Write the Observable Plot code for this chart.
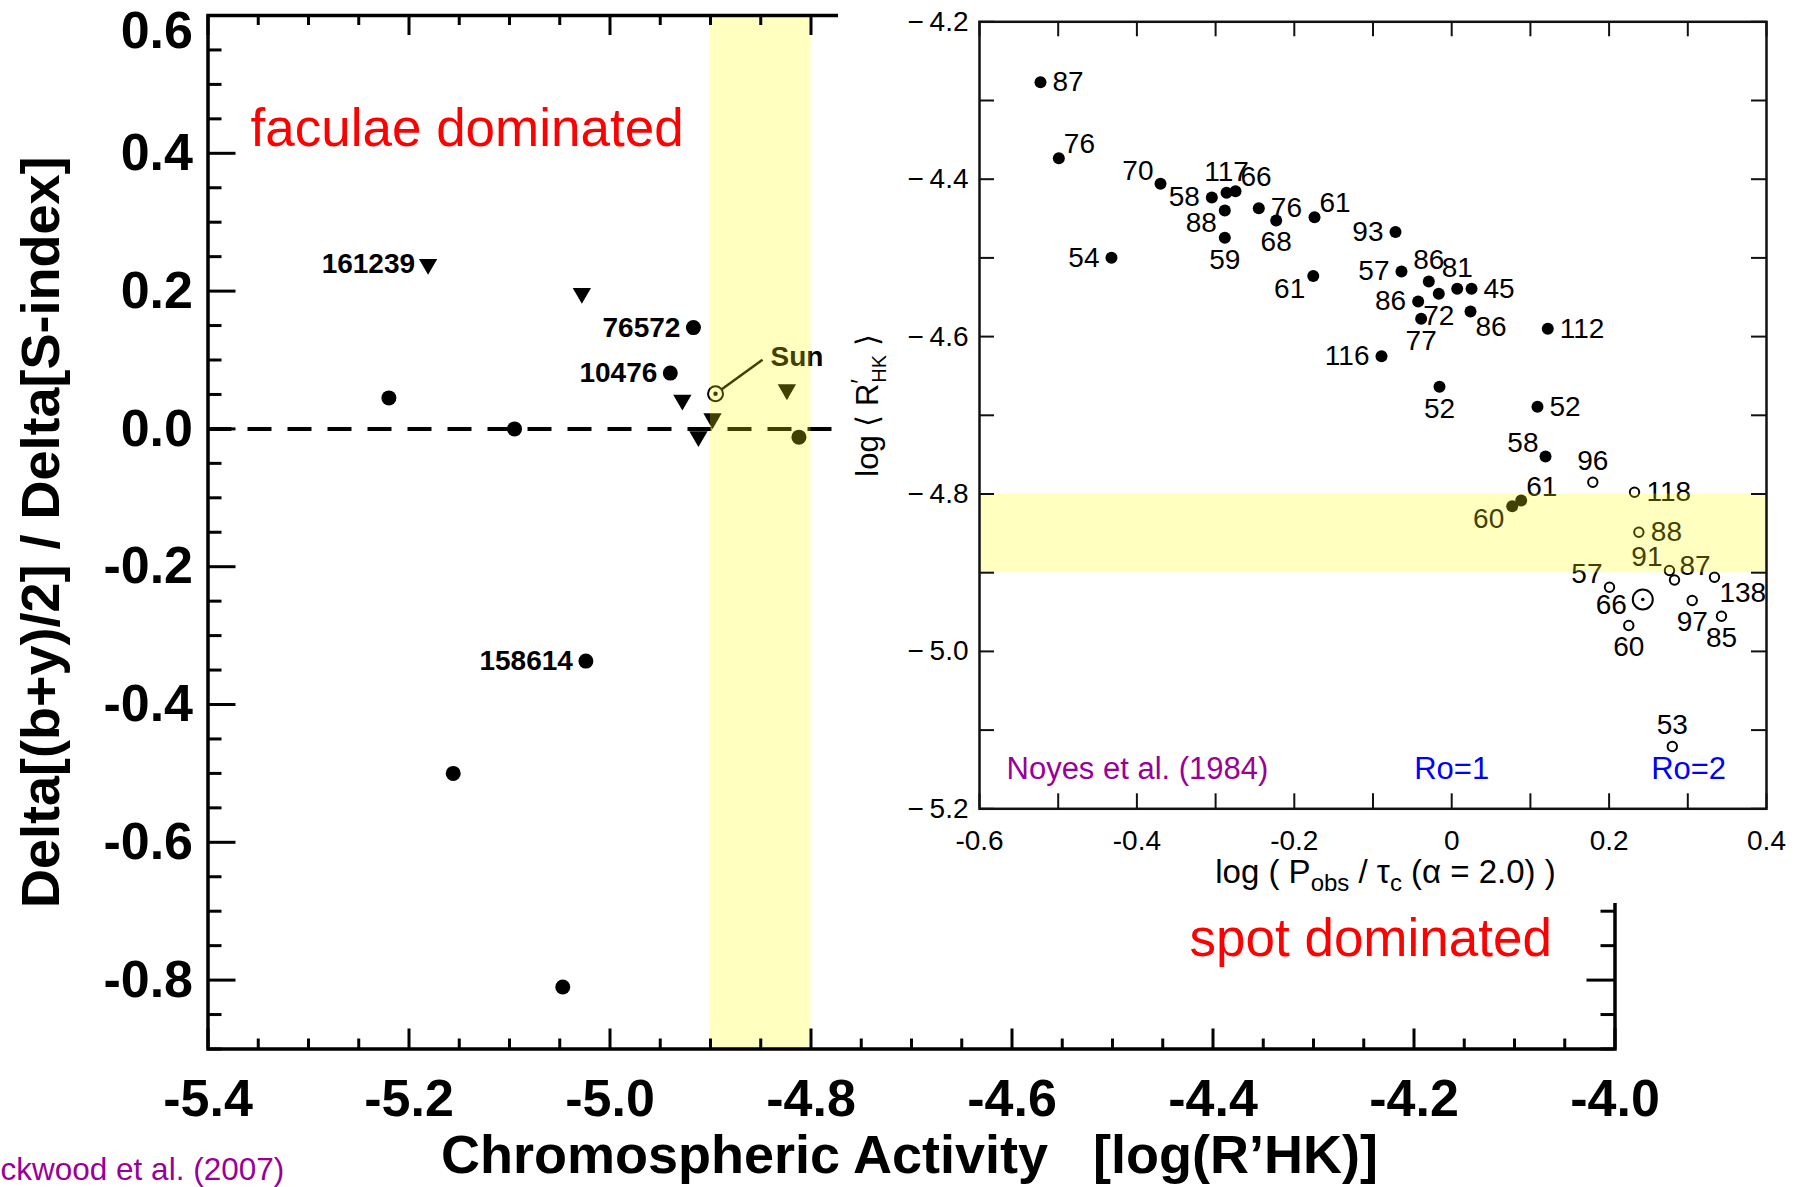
<!DOCTYPE html>
<html><head><meta charset="utf-8">
<script src="https://cdn.jsdelivr.net/npm/d3@7"></script>
<script src="https://cdn.jsdelivr.net/npm/@observablehq/plot@0.6"></script>
<style>
body{margin:0;background:#fff;}
#wrap{position:relative;width:1801px;height:1187px;overflow:hidden;background:#fff;}
#main{position:absolute;left:0;top:0;}
#inset{position:absolute;left:838px;top:0;}
</style></head><body><div id="wrap"><div id="main"></div><div id="inset"></div></div>
<script>
// ---------- Left chart (Lockwood et al. 2007) ----------
const circleStars   = ["", "", "76572", "10476", "", "158614", "", ""];
const circleLogRHK  = [-5.220, -5.095, -4.917, -4.940, -4.812, -5.024, -5.156, -5.047];
const circleRatio   = [0.045, 0.000, 0.147, 0.081, -0.012, -0.337, -0.500, -0.810];
const triangleStars  = ["161239", "", "", "", "", ""];
const triangleLogRHK = [-5.181, -5.028, -4.928, -4.912, -4.898, -4.824];
const triangleRatio  = [0.239, 0.197, 0.042, -0.011, 0.015, 0.057];
const sunLogRHK = -4.895, sunRatio = 0.051;
const solarBandRHK = [-4.9, -4.8];
const leftXTicks = [-5.4, -5.2, -5.0, -4.8, -4.6, -4.4, -4.2, -4.0];
const leftYTicks = [0.6, 0.4, 0.2, 0.0, -0.2, -0.4, -0.6, -0.8];

// ---------- Inset (Noyes et al. 1984) ----------
const noyesBV = ["87","76","70","58","54","117","66","88","76","68","59","61","93","61","57","86","81","45","72","86","77","86","112","116","52","52","58","61","60",
                 "96","118","88","91","87","138","57","60","97","85","53"];
const noyesLogRo = [-0.5225,-0.4992,-0.370,-0.3048,-0.4323,-0.2861,-0.2747,-0.2883,-0.2451,-0.223,-0.2883,-0.1743,-0.0714,-0.1759,-0.0638,-0.0291,0.007,0.0252,-0.0164,-0.0426,-0.0388,0.0239,0.1221,-0.0892,-0.0155,0.109,0.1192,0.0883,0.0769,
                    0.1793,0.2323,0.2378,0.2767,0.2831,0.3339,0.2005,0.225,0.3056,0.3428,0.2803];
const noyesLogRHK = [-4.2767,-4.3733,-4.4059,-4.4232,-4.4999,-4.4173,-4.4152,-4.4398,-4.4369,-4.4525,-4.4745,-4.4483,-4.467,-4.523,-4.5173,-4.530,-4.5393,-4.5393,-4.5456,-4.5554,-4.5774,-4.5681,-4.5901,-4.6249,-4.6638,-4.689,-4.7523,-4.8083,-4.8155,
                     -4.785,-4.7977,-4.8486,-4.8972,-4.9093,-4.9057,-4.9184,-4.9671,-4.9353,-4.9553,-5.1208];
const noyesFilled = [1,1,1,1,1,1,1,1,1,1,1,1,1,1,1,1,1,1,1,1,1,1,1,1,1,1,1,1,1, 0,0,0,0,0,0,0,0,0,0,0];
const noyesLabelSide = ["e","ne","nw","w","w","n","ne","sw","e","s","s","ne","w","sw","w","n","n","e","s","w","s","se","e","w","s","e","nw","ne","sw",
                        "n","e","e","nw","ne","se","nw","s","s","s","n"];
const sunInsetLogRo = 0.2428, sunInsetLogRHK = -4.934, sunInsetBV = "66";
const sunActivityBand = [-4.9, -4.8];
const rossbyNumbers = [1, 2];
const insetXTicks = [-0.6, -0.4, -0.2, 0, 0.2, 0.4];
const insetYTicks = [-4.2, -4.4, -4.6, -4.8, -5.0, -5.2];

const FONT = "'Liberation Sans', Arial, Helvetica, sans-serif";

// ===== main chart =====
const W = 1801, H = 1187, ML = 207.5, MR = 186.5, MT = 15, MB = 138.5;
const xDom = [-5.4, -4.0], yDom = [-0.9, 0.6];
const kx = (xDom[1] - xDom[0]) / (W - ML - MR);
const ky = (yDom[1] - yDom[0]) / (H - MT - MB);
const isMajor = v => Math.abs(v / 0.2 - Math.round(v / 0.2)) < 1e-6;
const xAll = d3.range(0, 29).map(i => +(xDom[0] + i * 0.05).toFixed(2));
const yAll = d3.range(0, 31).map(i => +(yDom[0] + i * 0.05).toFixed(2));

const circles = circleLogRHK.map((x, i) => ({x, y: circleRatio[i], label: circleStars[i]}));
const triangles = triangleLogRHK.map((x, i) => ({x, y: triangleRatio[i], label: triangleStars[i]}));
const sun = [{x: sunLogRHK, y: sunRatio}];

const triangleDown = {
  draw(context, size) {
    const t = Math.sqrt(size / (3 * Math.sqrt(3)));
    context.moveTo(0, 2 * t);
    context.lineTo(-Math.sqrt(3) * t, -t);
    context.lineTo(Math.sqrt(3) * t, -t);
    context.closePath();
  }
};

const main = Plot.plot({
  width: W, height: H, marginLeft: ML, marginRight: MR, marginTop: MT, marginBottom: MB,
  x: {domain: xDom, axis: null},
  y: {domain: yDom, axis: null},
  style: {fontFamily: FONT, background: "white", overflow: "visible"},
  marks: [
    Plot.ruleY([0], {stroke: "black", strokeWidth: 4, strokeDasharray: "24,16"}),
    Plot.dot(circles, {x: "x", y: "y", r: 7.5, fill: "black"}),
    Plot.dot(triangles, {x: "x", y: "y", r: 6.8, symbol: triangleDown, fill: "black"}),
    Plot.text(circles.filter(d => d.label), {x: "x", y: "y", text: "label", textAnchor: "end", dx: -13, fontSize: 28, fontWeight: "bold"}),
    Plot.text(triangles.filter(d => d.label), {x: "x", y: "y", text: "label", textAnchor: "end", dx: -13, fontSize: 28, fontWeight: "bold"}),
    Plot.link(sun, {x1: "x", y1: "y", x2: d => d.x + 47 * kx, y2: d => d.y + 34 * ky, stroke: "black", strokeWidth: 2.5}),
    Plot.dot(sun, {x: "x", y: "y", r: 7.5, fill: "white", stroke: "black", strokeWidth: 2}),
    Plot.dot(sun, {x: "x", y: "y", r: 2.2, fill: "black"}),
    Plot.text(sun, {x: "x", y: "y", text: () => "Sun", dx: 55, dy: -37, textAnchor: "start", fontSize: 28, fontWeight: "bold"}),
    Plot.rect([solarBandRHK], {x1: d => d[0], x2: d => d[1], fill: "#ffff00", fillOpacity: 0.25}),
    Plot.frame({stroke: "black", strokeWidth: 3.5}),
    Plot.ruleX(xAll, {x: d => d, y1: yDom[0], y2: d => yDom[0] + (isMajor(d) ? 20 : 10) * ky, stroke: "black", strokeWidth: 3}),
    Plot.ruleX(xAll, {x: d => d, y1: yDom[1], y2: d => yDom[1] - (isMajor(d) ? 20 : 10) * ky, stroke: "black", strokeWidth: 3}),
    Plot.ruleY(yAll, {y: d => d, x1: xDom[0], x2: d => xDom[0] + (isMajor(d) ? 28 : 14) * kx, stroke: "black", strokeWidth: 3}),
    Plot.ruleY(yAll, {y: d => d, x1: xDom[1], x2: d => xDom[1] - (isMajor(d) ? 28 : 14) * kx, stroke: "black", strokeWidth: 3}),
    Plot.text(leftXTicks, {x: d => d, frameAnchor: "bottom", lineAnchor: "middle", dy: 50, text: d => d.toFixed(1), fontSize: 52, fontWeight: "bold"}),
    Plot.text(leftYTicks.slice(1), {y: d => d, frameAnchor: "left", lineAnchor: "middle", dx: -15, textAnchor: "end", text: d => d.toFixed(1), fontSize: 52, fontWeight: "bold"}),
    Plot.text(leftYTicks.slice(0, 1), {y: d => d, frameAnchor: "left", lineAnchor: "middle", dx: -15, dy: 16, textAnchor: "end", text: d => d.toFixed(1), fontSize: 52, fontWeight: "bold"}),
    Plot.text(["Delta[(b+y)/2] / Delta[S-index]"], {x: () => xDom[0] - 166.5 * kx, y: () => (yDom[0] + yDom[1]) / 2, textAnchor: "middle", lineAnchor: "middle", rotate: -90, fontSize: 54, fontWeight: "bold"}),
    Plot.text(["Chromospheric Activity\u00a0\u00a0\u00a0[log(R\u2019HK)]"], {frameAnchor: "bottom", lineAnchor: "middle", textAnchor: "middle", dx: -2, dy: 107, fontSize: 54, fontWeight: "bold"}),
    Plot.text(["Lockwood et al. (2007)"], {frameAnchor: "bottom-left", lineAnchor: "middle", dx: -242.5, dy: 121, textAnchor: "start", fill: "#990099", fontSize: 31.5}),
    Plot.text(["faculae dominated"], {frameAnchor: "top-left", lineAnchor: "middle", dx: 42.5, dy: 114, textAnchor: "start", fill: "#ff0000", fontSize: 53}),
    Plot.text(["spot dominated"], {frameAnchor: "bottom-left", lineAnchor: "middle", dx: 981.5, dy: -110, textAnchor: "start", fill: "#ff0000", fontSize: 53})
  ]
});
document.getElementById("main").appendChild(main);

// ===== inset =====
const IW = 963, IH = 903, IML = 141, IMR = 35, IMT = 21.3, IMB = 94.7;
const ixDom = [-0.6, 0.4], iyDom = [-5.2, -4.2];
const ikx = (ixDom[1] - ixDom[0]) / (IW - IML - IMR);
const iky = (iyDom[1] - iyDom[0]) / (IH - IMT - IMB);
const ixAll = d3.range(0, 11).map(i => +(ixDom[0] + i * 0.1).toFixed(2));
const iyAll = d3.range(0, 11).map(i => +(iyDom[0] + i * 0.1).toFixed(2));
const stars = noyesBV.map((bv, i) => ({label: bv, x: noyesLogRo[i], y: noyesLogRHK[i], filled: !!noyesFilled[i], side: noyesLabelSide[i]}));
const sunI = [{x: sunInsetLogRo, y: sunInsetLogRHK, label: sunInsetBV}];
const sides = {
  e: {dx: 12, dy: 0, anchor: "start"}, w: {dx: -12, dy: 0, anchor: "end"},
  n: {dx: 0, dy: -21, anchor: "middle"}, s: {dx: 0, dy: 22, anchor: "middle"},
  ne: {dx: 5, dy: -14, anchor: "start"}, nw: {dx: -7, dy: -13, anchor: "end"},
  se: {dx: 5, dy: 16, anchor: "start"}, sw: {dx: -8, dy: 13, anchor: "end"}
};
const labelMarks = Object.entries(sides).map(([k, s]) =>
  Plot.text(stars.filter(d => d.side === k), {x: "x", y: "y", text: "label", dx: s.dx, dy: s.dy, textAnchor: s.anchor, fontSize: 28}));
const X_TITLE = "log ( Pobs / \u03c4c (\u03b1 = 2.0) )";
const Y_TITLE = "log \u27e8 R\u2032HK \u27e9";

const inset = Plot.plot({
  width: IW, height: IH, marginLeft: IML, marginRight: IMR, marginTop: IMT, marginBottom: IMB,
  x: {domain: ixDom, axis: null},
  y: {domain: iyDom, axis: null},
  style: {fontFamily: FONT, background: "white", overflow: "visible"},
  marks: [
    Plot.dot(stars.filter(d => d.filled), {x: "x", y: "y", r: 6, fill: "black"}),
    Plot.dot(stars.filter(d => !d.filled), {x: "x", y: "y", r: 4.7, fill: "white", stroke: "black", strokeWidth: 2}),
    Plot.dot(sunI, {x: "x", y: "y", r: 10, fill: "white", stroke: "black", strokeWidth: 2}),
    Plot.dot(sunI, {x: "x", y: "y", r: 1.8, fill: "black"}),
    ...labelMarks,
    Plot.text(sunI, {x: "x", y: "y", text: "label", dx: -16, dy: 6, textAnchor: "end", fontSize: 28}),
    Plot.rect([sunActivityBand], {y1: d => d[0], y2: d => d[1], fill: "#ffff00", fillOpacity: 0.25}),
    Plot.frame({stroke: "#111", strokeWidth: 2.5}),
    Plot.ruleX(ixAll, {x: d => d, y1: iyDom[0], y2: iyDom[0] + 15 * iky, stroke: "#111", strokeWidth: 2}),
    Plot.ruleX(ixAll, {x: d => d, y1: iyDom[1], y2: iyDom[1] - 15 * iky, stroke: "#111", strokeWidth: 2}),
    Plot.ruleY(iyAll, {y: d => d, x1: ixDom[0], x2: ixDom[0] + 15 * ikx, stroke: "#111", strokeWidth: 2}),
    Plot.ruleY(iyAll, {y: d => d, x1: ixDom[1], x2: ixDom[1] - 15 * ikx, stroke: "#111", strokeWidth: 2}),
    Plot.text(insetYTicks, {y: d => d, frameAnchor: "left", lineAnchor: "middle", dx: -11, textAnchor: "end", text: d => "\u2212\u2009" + Math.abs(d).toFixed(1), fontSize: 28}),
    Plot.text(insetXTicks, {x: d => d, frameAnchor: "bottom", lineAnchor: "middle", dy: 32, text: d => d === 0 ? "0" : d.toFixed(1), fontSize: 28}),
    Plot.text([X_TITLE], {frameAnchor: "bottom", lineAnchor: "middle", textAnchor: "middle", dx: 12.5, dy: 64, fontSize: 33}),
    Plot.text([Y_TITLE], {x: () => ixDom[0] - 111.5 * ikx, y: () => iyDom[1] - (405 - IMT) * iky, textAnchor: "middle", lineAnchor: "middle", rotate: -90, fontSize: 31}),
    Plot.text(["Noyes et al. (1984)"], {frameAnchor: "bottom-left", lineAnchor: "middle", dx: 27, dy: -40, textAnchor: "start", fill: "#990099", fontSize: 31}),
    Plot.text(rossbyNumbers, {x: d => Math.log10(d), frameAnchor: "bottom", lineAnchor: "middle", dy: -40, text: d => "Ro=" + d, fill: "#0000ff", fontSize: 31})
  ]
});
document.getElementById("inset").appendChild(inset);

function richText(svg, plain, parts) {
  d3.select(svg).selectAll("text").filter(function () { return this.textContent === plain; }).each(function () {
    const t = d3.select(this);
    t.text(null);
    for (const p of parts) {
      const s = t.append("tspan").text(p.t);
      if (p.dx != null) s.attr("dx", p.dx);
      if (p.dy != null) s.attr("dy", p.dy);
      if (p.fs != null) s.attr("font-size", p.fs);
    }
  });
}
richText(inset, X_TITLE, [
  {t: "log ( P"}, {t: "obs", dy: 8, fs: 24}, {t: " / \u03c4", dy: -8}, {t: "c", dy: 8, fs: 24}, {t: " (\u03b1 = 2.0) )", dy: -8}
]);
richText(inset, Y_TITLE, [
  {t: "log \u27e8 R"}, {t: "\u2032", dy: -9, fs: 26}, {t: "HK", dx: -4, dy: 17, fs: 20}, {t: " \u27e9", dy: -8}
]);
</script></body></html>
